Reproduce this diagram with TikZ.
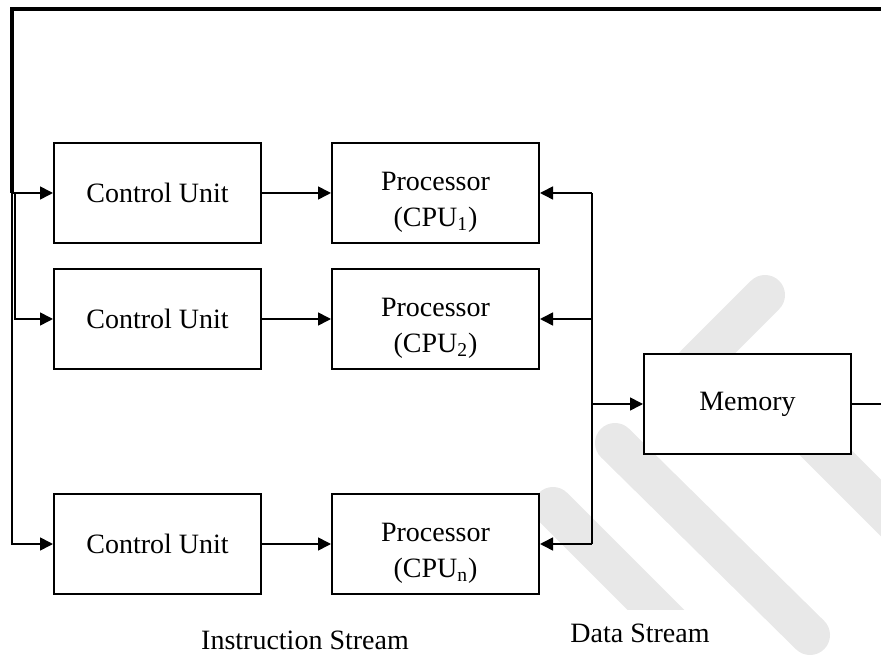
\documentclass[tikz,border=0pt]{standalone}
\usepackage{fontspec}
\setmainfont{Liberation Serif}
\usetikzlibrary{arrows.meta,positioning}
\definecolor{markgray}{RGB}{232,232,232}
\tikzset{unit box/.style={draw, fill=white, line width=1pt,
    minimum width=103.5pt, minimum height=50pt, align=center, inner sep=0pt}}
\tikzset{flow edge/.style={draw=black, line width=0.8pt, -{Triangle[length=6.5pt,width=6.5pt]}}}
\tikzset{plain edge/.style={draw=black, line width=0.8pt}}
\tikzset{instruction edge/.style={draw=black, line width=2.4pt}}
\tikzset{watermark/.style={draw=markgray, line width=20pt, line cap=round}}
\tikzset{stream label/.style={fill=white, minimum height=23pt}}
\newcommand{\cpulabel}[1]{\rule{0pt}{18.5pt}Processor\\(CPU\textsubscript{#1})}

\begin{document}
\begin{tikzpicture}
      [x=0.5pt, y=-0.5pt, font=\fontsize{14}{18}\selectfont]
      \useasboundingbox (0,0) rectangle (881,656);

      \begin{scope}
        \clip (0,0) rectangle (881,656);
        \draw [watermark] (765,295) -- (695,365);
        \draw [watermark] (760,387) -- (960,587);
        \draw [watermark] (615,443) -- (810,635);
        \draw [watermark] (553,507) -- (680,634);
      \end{scope}

      \node [unit box] (cu1)  at (157.5,193) {Control Unit};
      \node [unit box] (cu2)  at (157.5,319) {Control Unit};
      \node [unit box] (cun)  at (157.5,544) {Control Unit};
      \node [unit box] (cpu1) at (435.5,193) {\cpulabel{1}};
      \node [unit box] (cpu2) at (435.5,319) {\cpulabel{2}};
      \node [unit box] (cpun) at (435.5,544) {\cpulabel{n}};
      \node [unit box] (mem)  at (747.5,404) {Memory};

      \node [stream label] (istream) at (305,640) {Instruction Stream};
      \node [stream label] (dstream) at (640,633) {Data Stream};

      \coordinate (corner) at (12,9);
      \coordinate (topend) at (881,9);
      \coordinate (split)  at (12,193);
      \coordinate (split2) at (14.7,193);
      \coordinate (bus1)   at (592,193);
      \coordinate (bus2)   at (592,319);
      \coordinate (busm)   at (592,404);
      \coordinate (busn)   at (592,544);
      \coordinate (memend) at (881,404);

      \draw [instruction edge] (split) -- (corner) -- (topend);
      \draw [flow edge]  (split)  -- (cu1);
      \draw [flow edge]  (split2) |- (cu2);
      \draw [flow edge]  (split)  |- (cun);

      \draw [flow edge]  (cu1) -- (cpu1);
      \draw [flow edge]  (cu2) -- (cpu2);
      \draw [flow edge]  (cun) -- (cpun);

      \draw [plain edge] (bus1) -- (busn);
      \draw [flow edge]  (bus1) -- (cpu1);
      \draw [flow edge]  (bus2) -- (cpu2);
      \draw [flow edge]  (busn) -- (cpun);
      \draw [flow edge]  (busm) -- (mem);
      \draw [plain edge] (mem)  -- (memend);
\end{tikzpicture}
\end{document}
